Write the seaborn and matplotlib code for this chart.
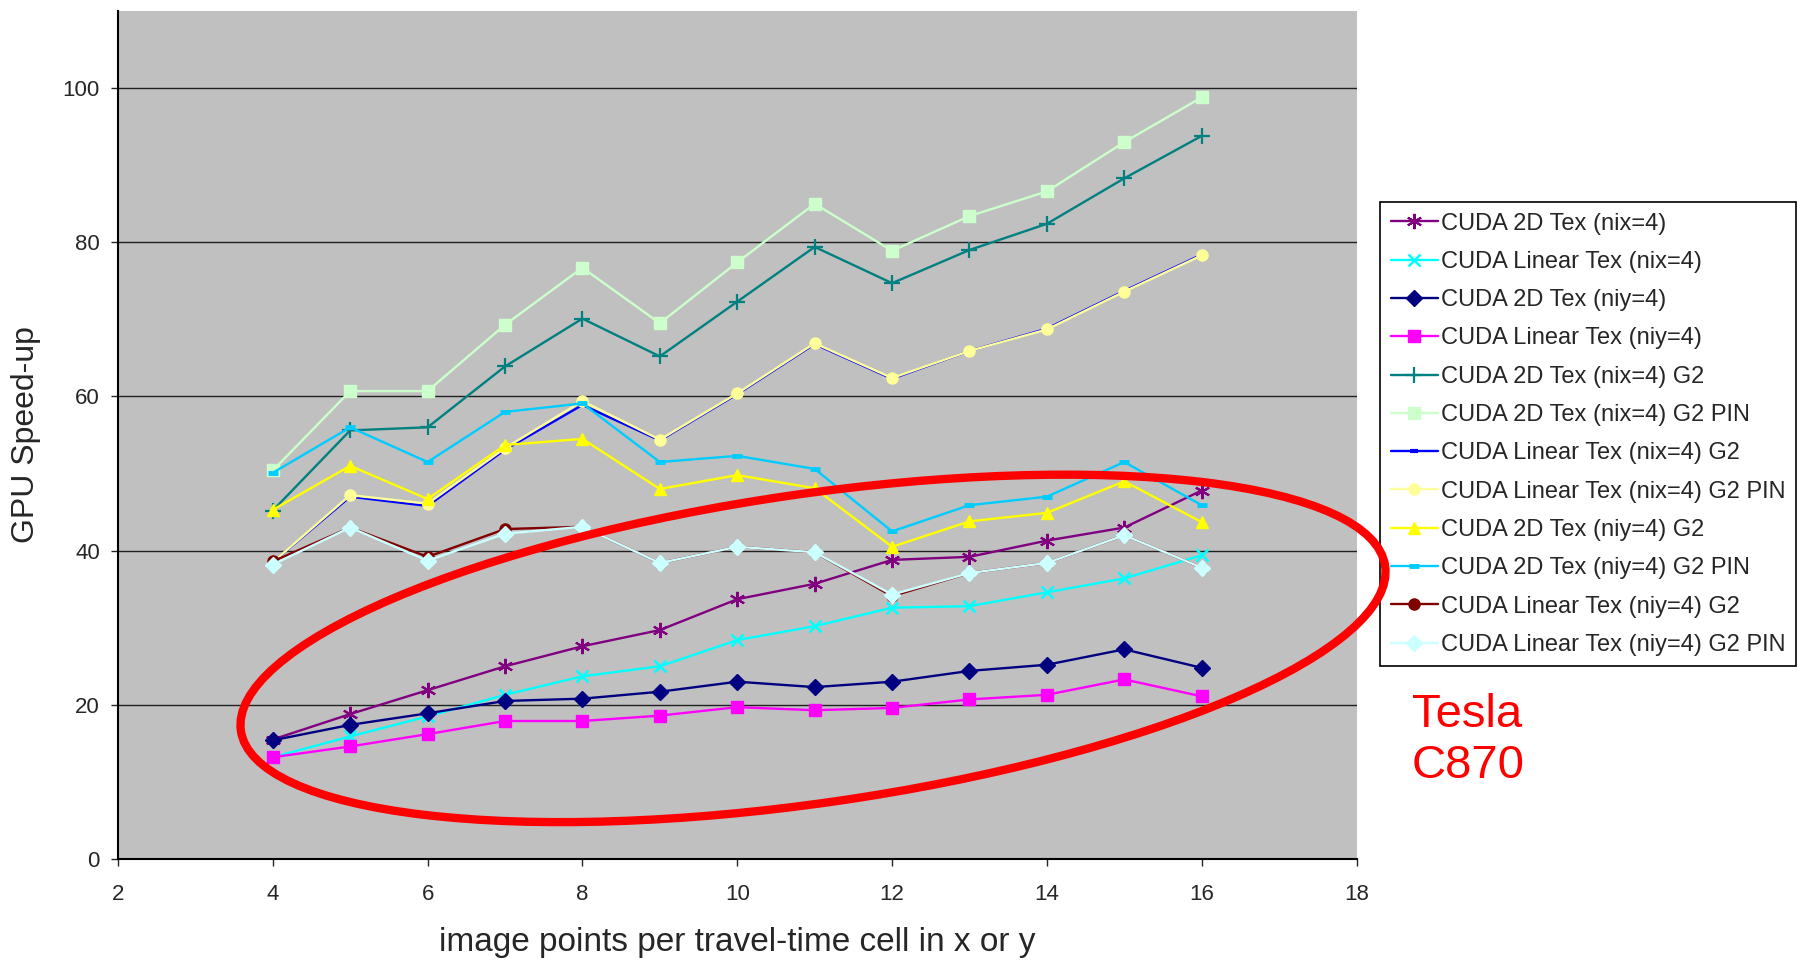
import matplotlib
matplotlib.use("Agg")
import matplotlib.pyplot as plt
from matplotlib.patches import Ellipse
from matplotlib.transforms import IdentityTransform
import seaborn as sns

x_points = [4, 5, 6, 7, 8, 9, 10, 11, 12, 13, 14, 15, 16]

tex2d_nix = [15.5, 18.8, 21.9, 25.0, 27.6, 29.7, 33.7, 35.7, 38.8, 39.2, 41.3, 43.0, 47.8]
lin_nix = [13.2, 15.9, 18.5, 21.3, 23.7, 25.0, 28.4, 30.2, 32.6, 32.8, 34.6, 36.4, 39.4]
tex2d_niy = [15.4, 17.4, 18.9, 20.5, 20.8, 21.7, 23.0, 22.3, 23.0, 24.4, 25.2, 27.2, 24.8]
lin_niy = [13.2, 14.6, 16.2, 17.9, 17.9, 18.6, 19.7, 19.3, 19.6, 20.7, 21.3, 23.3, 21.1]
tex2d_nix_g2 = [45.2, 55.6, 56.0, 63.9, 70.1, 65.2, 72.3, 79.4, 74.7, 79.0, 82.4, 88.3, 93.8]
tex2d_nix_g2_pin = [50.4, 60.7, 60.7, 69.3, 76.7, 69.5, 77.4, 85.0, 78.9, 83.4, 86.6, 93.0, 98.8]
lin_nix_g2 = [38.5, 47.0, 45.8, 53.1, 58.9, 54.3, 60.3, 66.8, 62.3, 65.9, 68.8, 73.7, 78.4]
lin_nix_g2_pin = [38.5, 47.2, 46.1, 53.3, 59.4, 54.4, 60.4, 66.9, 62.4, 65.9, 68.7, 73.6, 78.3]
tex2d_niy_g2 = [45.3, 51.0, 46.7, 53.7, 54.5, 48.0, 49.8, 48.1, 40.5, 43.8, 44.9, 49.0, 43.7]
tex2d_niy_g2_pin = [50.1, 56.0, 51.5, 58.0, 59.1, 51.5, 52.3, 50.6, 42.5, 45.9, 47.0, 51.5, 45.9]
lin_niy_g2 = [38.6, 43.0, 39.2, 42.8, 43.1, 38.4, 40.5, 39.8, 34.1, 37.1, 38.4, 42.0, 37.8]
lin_niy_g2_pin = [38.2, 43.0, 38.7, 42.2, 43.1, 38.4, 40.5, 39.8, 34.3, 37.1, 38.4, 42.0, 37.8]

# label, values, colour, marker, marker size, marker edge width
series = [
    ("CUDA 2D Tex (nix=4)", tex2d_nix, "#800080", (6, 2, 0), 11, 1.5),
    ("CUDA Linear Tex (nix=4)", lin_nix, "#00FFFF", "x", 9, 1.8),
    ("CUDA 2D Tex (niy=4)", tex2d_niy, "#000080", "D", 8, 1),
    ("CUDA Linear Tex (niy=4)", lin_niy, "#FF00FF", "s", 8, 1),
    ("CUDA 2D Tex (nix=4) G2", tex2d_nix_g2, "#008080", "+", 11, 1.6),
    ("CUDA 2D Tex (nix=4) G2 PIN", tex2d_nix_g2_pin, "#CCFFCC", "s", 8, 1),
    ("CUDA Linear Tex (nix=4) G2", lin_nix_g2, "#0000FF", "_", 6, 3),
    ("CUDA Linear Tex (nix=4) G2 PIN", lin_nix_g2_pin, "#FFFF99", "o", 8, 1),
    ("CUDA 2D Tex (niy=4) G2", tex2d_niy_g2, "#FFFF00", "^", 9, 1),
    ("CUDA 2D Tex (niy=4) G2 PIN", tex2d_niy_g2_pin, "#00CCFF", "_", 7, 3.5),
    ("CUDA Linear Tex (niy=4) G2", lin_niy_g2, "#800000", "o", 8, 1),
    ("CUDA Linear Tex (niy=4) G2 PIN", lin_niy_g2_pin, "#CCFFFF", "D", 8, 1),
]

sns.set_style("white")
plt.rcParams["font.family"] = ["Liberation Sans", "DejaVu Sans"]

fig = plt.figure(figsize=(18.01, 9.6), dpi=100)
ax = fig.add_axes([0.0655, 0.1052, 0.6877, 0.8833])
ax.set_facecolor("#C0C0C0")

for label, vals, color, marker, ms, mew in series:
    sns.lineplot(x=x_points, y=vals, ax=ax, color=color, marker=marker,
                 markersize=ms, markeredgewidth=mew, markeredgecolor=color,
                 linewidth=1.7, label=label)

ax.set_xlim(2, 18)
ax.set_ylim(0, 110)
ax.set_xticks(range(2, 19, 2))
ax.set_yticks(range(0, 101, 20))
ax.yaxis.grid(True, color="#202020", linewidth=1.0)
ax.set_axisbelow(True)
for side in ["top", "right"]:
    ax.spines[side].set_visible(False)
for side in ["left", "bottom"]:
    ax.spines[side].set_color("black")
    ax.spines[side].set_linewidth(1.5)
ax.tick_params(axis="y", direction="out", length=5, width=1, pad=8, labelsize=16, left=True)
ax.tick_params(axis="x", direction="out", length=5, width=1, pad=13, labelsize=16, bottom=True)

ax.set_ylabel("GPU Speed-up", fontsize=23)
ax.yaxis.set_label_coords(-0.062, 0.5)
ax.set_xlabel("image points per travel-time cell in x or y", fontsize=24, va="top")
ax.xaxis.set_label_coords(0.5, -0.080)

leg = ax.legend(loc="upper left", bbox_to_anchor=(0.7662, 0.7896),
                bbox_transform=fig.transFigure, frameon=True, fancybox=False,
                edgecolor="black", framealpha=1, fontsize=17, handlelength=2.0,
                handletextpad=0.15, labelspacing=0.69, borderpad=0.45,
                borderaxespad=0)
leg.get_frame().set_linewidth(1.2)

ring = Ellipse((813, 311.6), width=1156, height=309, angle=8.2, fill=False,
               edgecolor="#FF0000", linewidth=6, transform=IdentityTransform(),
               zorder=10)
fig.add_artist(ring)

fig.text(1412 / 1801, 1 - 727 / 960, "Tesla", color="#FF0000", fontsize=34, va="baseline")
fig.text(1412 / 1801, 1 - 778 / 960, "C870", color="#FF0000", fontsize=34, va="baseline")

fig.savefig("out.png", dpi=100, facecolor="white")
